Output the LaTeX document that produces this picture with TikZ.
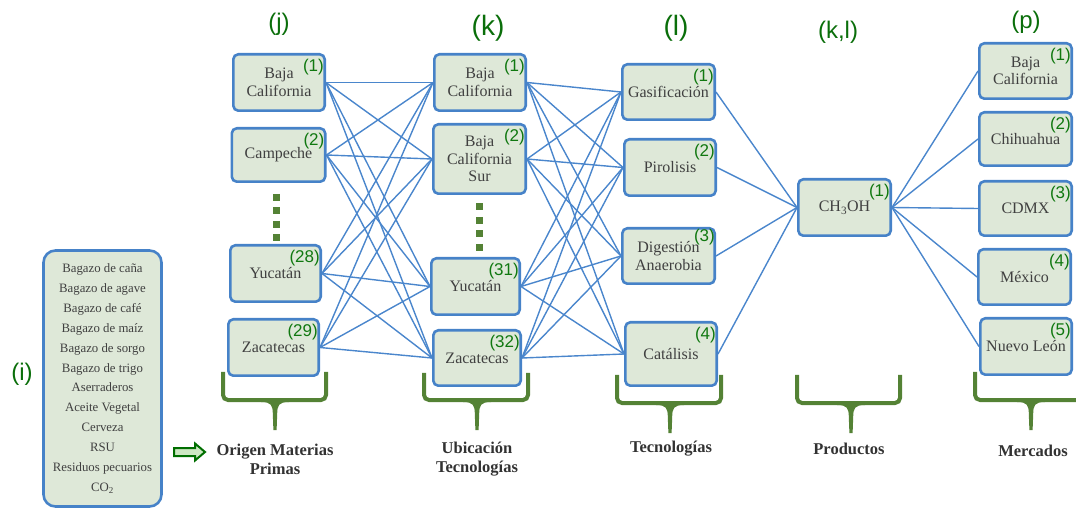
\documentclass[tikz,border=0pt]{standalone}
\usepackage{fontspec}
\setmainfont{Liberation Serif}
\newfontfamily\numfont{Liberation Sans}
\usetikzlibrary{backgrounds}

\definecolor{boxblue}{RGB}{70,130,200}
\definecolor{lineblue}{RGB}{74,134,204}
\definecolor{boxfill}{RGB}{222,232,216}
\definecolor{txtgray}{RGB}{64,64,64}
\definecolor{numgreen}{RGB}{16,120,16}
\definecolor{hdrgreen}{RGB}{10,110,10}
\definecolor{bracegreen}{RGB}{84,130,53}
\definecolor{captgray}{RGB}{50,50,50}
\definecolor{arrowgreen}{RGB}{0,110,0}
\definecolor{arrowfill}{RGB}{205,232,195}

\begin{document}
\begin{tikzpicture}[x=1pt,y=-1pt,
  box/.style={draw=boxblue, line width=2.6pt, fill=boxfill, rounded corners=5pt,
    inner sep=1pt, align=center, text=txtgray,
    font=\fontsize{16}{17.5}\selectfont},
  wh/.style 2 args={minimum width=#1pt-2.6pt, minimum height=#2pt-2.6pt},
  num/.style={text=numgreen, font=\numfont\fontsize{17}{17}\selectfont,
    inner sep=0pt, anchor=east},
  hdr/.style={text=hdrgreen, inner sep=0pt},
  link/.style={draw=lineblue, line width=1.4pt},
  brace/.style={draw=bracegreen, line width=4pt, rounded corners=5pt},
  captext/.style={font=\bfseries\fontsize{16.5}{19}\selectfont, text=captgray,
    align=center, inner sep=0pt},
  dotcol/.style={draw=bracegreen, line width=7pt, dash pattern=on 7pt off 6.5pt},
]
\useasboundingbox (0,0) rectangle (1076,510);
\clip (0,0) rectangle (1076,510);

% column headers
\node[hdr, font=\numfont\fontsize{24}{24}\selectfont] (hi) at (22,374) {(i)};
\node[hdr, font=\numfont\fontsize{24}{24}\selectfont] (hj) at (279,24) {(j)};
\node[hdr, font=\numfont\fontsize{28}{28}\selectfont] (hk) at (488,28) {(k)};
\node[hdr, font=\numfont\fontsize{28}{28}\selectfont] (hl) at (676,28) {(l)};
\node[hdr, font=\numfont\fontsize{24}{24}\selectfont] (hkl) at (838,32) {(k,l)};
\node[hdr, font=\numfont\fontsize{24}{24}\selectfont] (hp) at (1026,22) {(p)};

% raw materials list
\node[draw=boxblue, line width=2.6pt, fill=boxfill, rounded corners=12pt,
  minimum width=118pt, minimum height=256pt, align=center, text=txtgray,
  font=\fontsize{12.8}{19.9}\selectfont] (src) at (102.5,378.5)
  {Bagazo de caña\\Bagazo de agave\\Bagazo de café\\Bagazo de maíz\\Bagazo de sorgo\\Bagazo de trigo\\Aserraderos\\Aceite Vegetal\\Cerveza\\RSU\\Residuos pecuarios\\CO\textsubscript{2}};

% origin of raw materials
\node[box, wh={94}{59}] (j1) at (279,82.5) {Baja\\California};
\node[box, wh={96}{56}] (j2) at (278.5,155) {Campeche};
\node[box, wh={93}{59}] (j28) at (275.5,273.5) {Yucatán};
\node[box, wh={93}{59}] (j29) at (273.5,347.5) {Zacatecas};

% technology locations
\node[box, wh={94}{59}] (k1) at (480,82.5) {Baja\\California};
\node[box, wh={95}{72}] (k2) at (479.5,159) {Baja\\California\\Sur};
\node[box, wh={91}{59}] (k31) at (475.5,286.5) {Yucatán};
\node[box, wh={90}{58}] (k32) at (477,358) {Zacatecas};

% technologies
\node[box, wh={95}{58}] (l1) at (668.5,92) {Gasificación};
\node[box, wh={94}{59}] (l2) at (670,167.5) {Pirolisis};
\node[box, wh={95}{58}] (l3) at (668.5,256) {Digestión\\Anaerobia};
\node[box, wh={94}{66}] (l4) at (671,354) {\raisebox{-5pt}{Catálisis}};

% product
\node[box, wh={95}{59}] (m) at (844.5,207.5) {CH\textsubscript{3}OH};

% markets
\node[box, wh={95}{58}] (p1) at (1025.5,71) {Baja\\California};
\node[box, wh={95}{56}] (p2) at (1025.5,139) {Chihuahua};
\node[box, wh={95}{57}] (p3) at (1025.5,208.5) {CDMX};
\node[box, wh={95}{58}] (p4) at (1024.5,277) {México};
\node[box, wh={94}{59}] (p5) at (1026,346.5) {Nuevo León};

% index numbers
\foreach \n/\t in {j1/(1), j2/(2), j28/(28), j29/(29),
                   k1/(1), k2/(2), k31/(31), k32/(32),
                   l1/(1), l2/(2), l4/(4), m/(1),
                   p1/(1), p2/(2), p3/(3), p4/(4), p5/(5)}
  \node[num] at ([xshift=-2pt,yshift=-14pt]\n.north east) {\t};
\node[num] at ([xshift=-1pt,yshift=-10pt]l3.north east) {(3)};

% connectors
\begin{scope}[on background layer]
  \foreach \a in {j1,j2,j28,j29}
    \foreach \b in {k1,k2,k31,k32}
      \draw[link] (\a.east) -- (\b.west);
  \foreach \a in {k1,k2,k31,k32}
    \foreach \b in {l1,l2,l3,l4}
      \draw[link] (\a.east) -- (\b.west);
  \foreach \a in {l1,l2,l3,l4}
    \draw[link] (\a.east) -- (m.west);
  \foreach \b in {p1,p2,p3,p4,p5}
    \draw[link] (m.east) -- (\b.west);
\end{scope}

% ellipsis marks
\draw[dotcol] (276,194) -- (276,244);
\draw[dotcol] (479,203.5) -- (479,252);

% braces
\foreach \xa/\xb/\xc/\top/\bar/\tip in {223/326/275/372/400/430,
                                        424/528/477/373/400/430,
                                        617/721/670/375/403/433,
                                        797/900/851/375/403/433,
                                        975/1087/1031/372/400/430} {
  \draw[brace] (\xa,\top) -- (\xa,\bar) -- (\xb,\bar) -- (\xb,\top);
  \fill[bracegreen] (\xc-14,\bar+2) .. controls (\xc-4,\bar+2) and (\xc-2.2,\bar+5) .. (\xc-2.2,\bar+14)
     -- (\xc-1.6,\tip) -- (\xc+1.6,\tip) -- (\xc+2.2,\bar+14)
     .. controls (\xc+2.2,\bar+5) and (\xc+4,\bar+2) .. (\xc+14,\bar+2)
     -- (\xc+14,\bar-2) -- (\xc-14,\bar-2) -- cycle;
}

% captions
\node[captext] (cj) at (275,459.5) {Origen Materias\\Primas};
\node[captext] (ck) at (477,459.5) {Ubicación\\Tecnologías};
\node[captext] (cl) at (671,449) {Tecnologías};
\node[captext] (cm) at (849,449) {Productos};
\node[captext] (cp) at (1033,451) {Mercados};

% hollow arrow towards the first column
\draw[arrowgreen, fill=arrowfill, line width=2pt, line join=miter]
  (174,448) -- (195,448) -- (195,443.5) -- (205,452) -- (195,460.5)
  -- (195,456) -- (174,456) -- cycle;
\end{tikzpicture}
\end{document}
